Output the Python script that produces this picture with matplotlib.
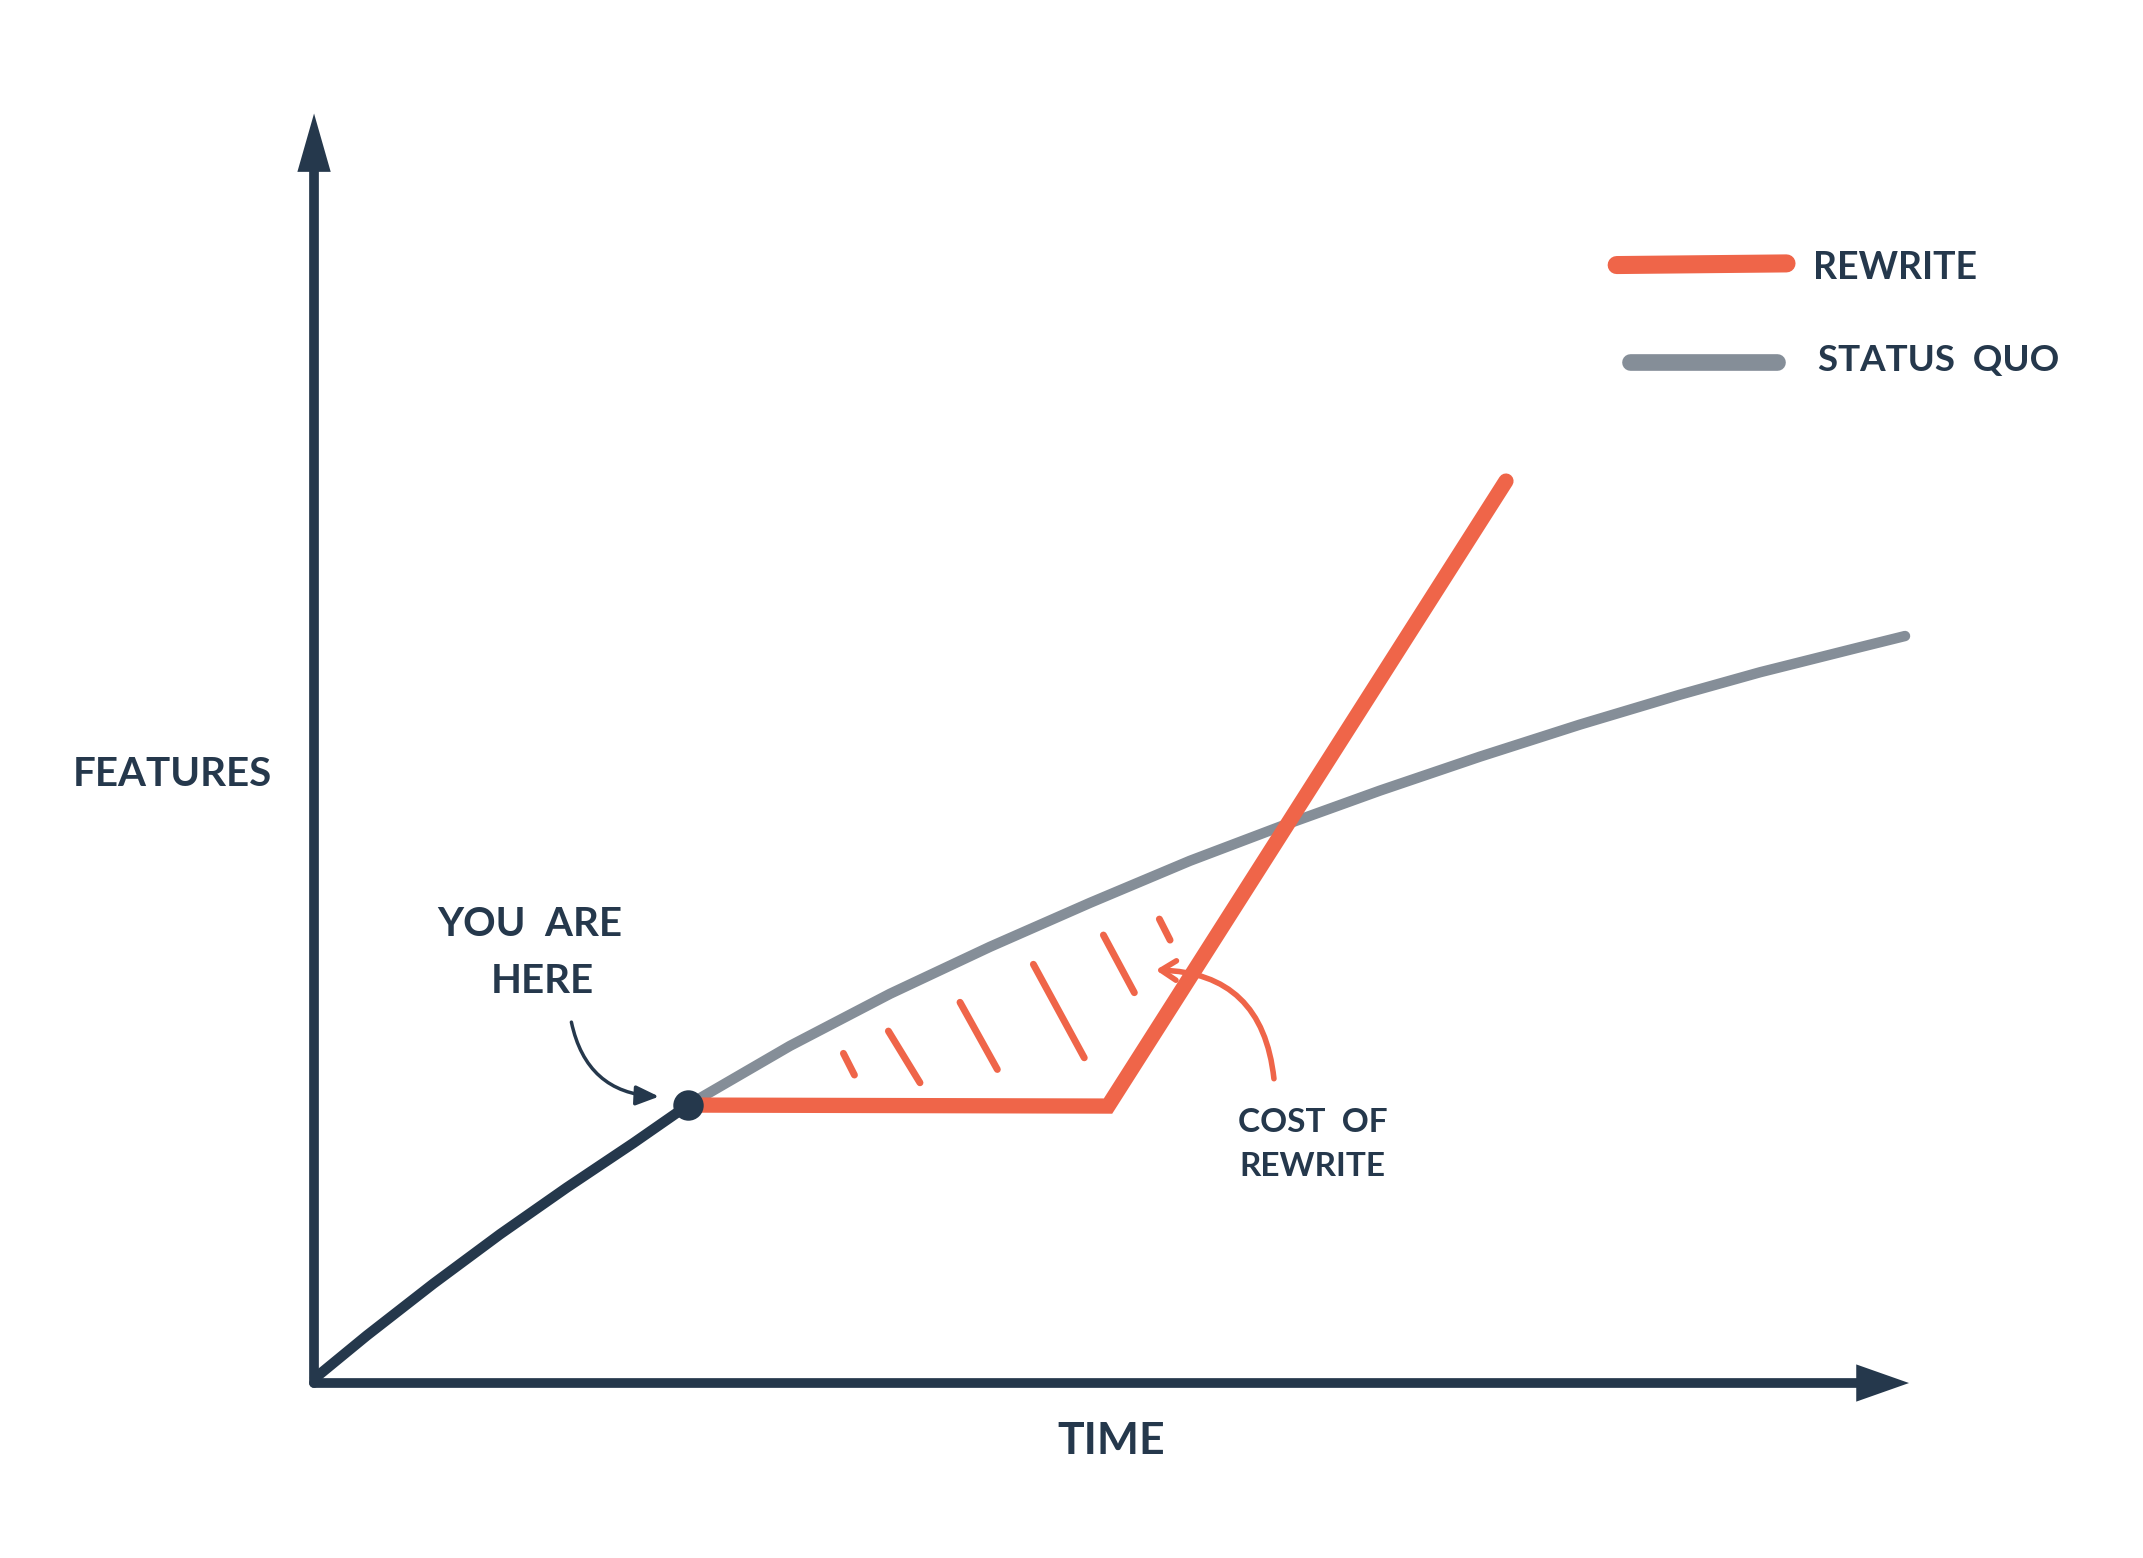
import matplotlib
matplotlib.use("Agg")
import matplotlib.pyplot as plt
from matplotlib.patches import FancyArrowPatch

# ----- datos leidos del boceto (tiempo 0-100, features 0-100) -----
# tramo ya recorrido (oscuro) hasta "you are here"
past_time = [0.06, 3.30, 7.48, 11.66, 15.84, 20.02, 23.45]
past_feat = [0.39, 3.74, 7.84, 11.74, 15.42, 18.94, 21.94]

# status quo a partir del punto actual
sq_time = [23.45, 29.84, 36.11, 42.38, 48.65, 54.92, 60.75, 66.83, 73.10, 79.37, 85.64, 90.66, 96.93, 99.75]
sq_feat = [21.94, 26.61, 30.72, 34.43, 37.90, 41.22, 44.00, 46.76, 49.44, 51.97, 54.33, 56.10, 58.08, 58.96]

# rewrite: parada y luego subida rapida
rw_time = [23.45, 49.78, 74.73]
rw_feat = [21.94, 21.86, 71.19]

# trazos del sombreado (coste de reescritura)
hatch_t0 = [33.19, 36.01, 40.50, 45.10, 49.49, 53.00]
hatch_f0 = [26.02, 27.78, 30.05, 33.05, 35.36, 36.62]
hatch_t1 = [33.88, 37.99, 42.84, 48.29, 51.43, 53.67]
hatch_f1 = [24.31, 23.70, 24.75, 25.67, 30.81, 34.96]

RED = '#ef6549'
GRAY = '#858e98'
NAVY = '#25384c'
FONT = ['Lato', 'DejaVu Sans']

fig = plt.figure(figsize=(21.43, 15.58), dpi=100)
ax = fig.add_axes([0, 0, 1, 1])
ax.set_xlim(-19.69, 114.67)
ax.set_ylim(-13.81, 109.16)
ax.axis('off')

# ejes: trazo + punta rellena
ax.plot([0, 0], [0, 97], color=NAVY, lw=7, solid_capstyle='round')
ax.plot([0, 97.5], [0, 0], color=NAVY, lw=7, solid_capstyle='round')
ax.add_patch(FancyArrowPatch((0, 0), (0, 100.2), arrowstyle='-|>,head_length=2.1,head_width=0.6',
                             mutation_scale=20, lw=0, color=NAVY, shrinkA=0, shrinkB=0))
ax.add_patch(FancyArrowPatch((0, 0), (100, 0), arrowstyle='-|>,head_length=1.9,head_width=0.67',
                             mutation_scale=20, lw=0, color=NAVY, shrinkA=0, shrinkB=0))

# curvas
ax.plot(past_time, past_feat, color=NAVY, lw=7.5, solid_capstyle='round', solid_joinstyle='round')
ax.plot(sq_time, sq_feat, color=GRAY, lw=7.5, solid_capstyle='round', solid_joinstyle='round')
ax.plot(rw_time, rw_feat, color=RED, lw=11, solid_capstyle='round', solid_joinstyle='miter', zorder=3)

# sombreado
for t0, f0, t1, f1 in zip(hatch_t0, hatch_f0, hatch_t1, hatch_f1):
    ax.plot([t0, t1], [f0, f1], color=RED, lw=5, solid_capstyle='round')

# punto actual
ax.scatter([past_time[-1]], [past_feat[-1]], s=480, color=NAVY, zorder=5, linewidths=0)

# flechas de anotacion
ax.annotate('', xy=(21.8, 22.6), xytext=(16.1, 28.7),
            arrowprops=dict(arrowstyle='-|>,head_length=0.7,head_width=0.3', color=NAVY,
                            lw=2.5, connectionstyle='arc3,rad=0.4', mutation_scale=20))
ax.annotate('', xy=(52.6, 32.6), xytext=(60.2, 23.8),
            arrowprops=dict(arrowstyle='->,head_length=0.55,head_width=0.35', color=RED,
                            lw=4, connectionstyle='arc3,rad=0.45', mutation_scale=20))

# textos
kw = dict(color=NAVY, va='center', family=FONT, fontweight='bold')
ax.text(-8.9, 48.0, 'FEATURES', fontsize=29, ha='center', **kw)
ax.text(49.97, -4.54, 'TIME', fontsize=32, ha='center', **kw)
ax.text(13.5, 36.2, 'YOU  ARE', fontsize=29, ha='center', **kw)
ax.text(14.3, 31.7, 'HERE', fontsize=29, ha='center', **kw)
ax.text(62.6, 20.6, 'COST  OF', fontsize=24, ha='center', **kw)
ax.text(62.6, 17.1, 'REWRITE', fontsize=24, ha='center', **kw)

# leyenda dibujada a mano
ax.plot([81.67, 92.32], [88.24, 88.37], color=RED, lw=13, solid_capstyle='round')
ax.plot([82.5, 91.7], [80.6, 80.6], color=GRAY, lw=12, solid_capstyle='round')
ax.text(94.0, 88.0, 'REWRITE', fontsize=27, ha='left', **kw)
ax.text(94.3, 80.7, 'STATUS  QUO', fontsize=26.5, ha='left', **kw)

fig.savefig('out.png', dpi=100, facecolor='white')
